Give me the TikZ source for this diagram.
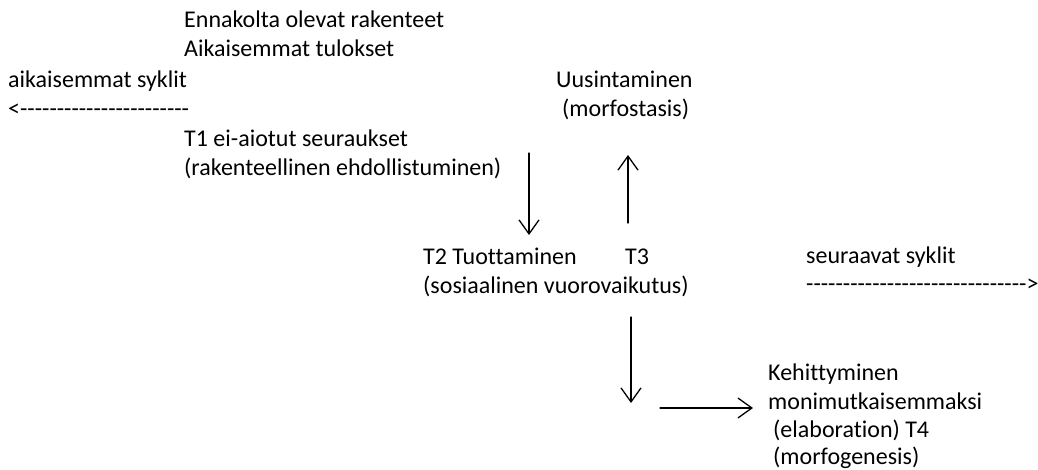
\documentclass[tikz,border=0pt]{standalone}
\usepackage{fontspec}
\setmainfont{Carlito}[Ligatures={TeXOff,CommonOff}]
\usetikzlibrary{arrows.meta}
\begin{document}
\begin{tikzpicture}[x=1pt,y=-1pt,font=\fontsize{24}{29}\selectfont,line join=round,line cap=round,
	>={Straight Barb[length=14pt,width=20pt,line width=1.3pt]},
	txt/.style={anchor=base west,inner sep=0pt}]
			\useasboundingbox (0,0) rectangle (1038,470);
			\path
			(184,28) node[txt] (ennak) {Ennakolta olevat rakenteet}
			(184,57) node[txt] (aikais) {Aikaisemmat tulokset}
			(8,88) node[txt] (aiksyk) {aikaisemmat syklit}
			(8,117) node[txt] (aiknuoli) {<-----------------------}
			(556,88) node[txt] (uusint) {Uusintaminen}
			(562,117) node[txt] (morfost) {(morfostasis)}
			(184,147) node[txt] (tyksi) {T1 ei-aiotut seuraukset}
			(184,176) node[txt] (rakent) {(rakenteellinen ehdollistuminen)}
			(423,265) node[txt] (tkaksi) {T2 Tuottaminen}
			(625,265) node[txt] (tkolme) {T3}
			(423,294) node[txt] (sosiaal) {(sosiaalinen vuorovaikutus)}
			(806,263) node[txt] (seursyk) {seuraavat syklit}
			(806,291) node[txt] (seurnuoli) {------------------------------>}
			(768,380) node[txt] (kehitt) {Kehittyminen}
			(768,409) node[txt] (monim) {monimutkaisemmaksi}
			(773,437) node[txt] (elab) {(elaboration) T4}
			(773,464) node[txt] (morfog) {(morfogenesis)}
			;
			\coordinate (alas1) at (529,153);
			\coordinate (alas1b) at (529,235);
			\coordinate (ylos) at (628,223);
			\coordinate (ylosb) at (628,155);
			\coordinate (alas2) at (631,317);
			\coordinate (alas2b) at (631,403);
			\coordinate (oik) at (660,408);
			\coordinate (oikb) at (753,408);
			\draw[->,line width=1.3pt] (alas1)--(alas1b);
			\draw[->,line width=1.3pt] (ylos)--(ylosb);
			\draw[->,line width=1.3pt] (alas2)--(alas2b);
			\draw[->,line width=1.3pt] (oik)--(oikb);
	\end{tikzpicture}
\end{document}
